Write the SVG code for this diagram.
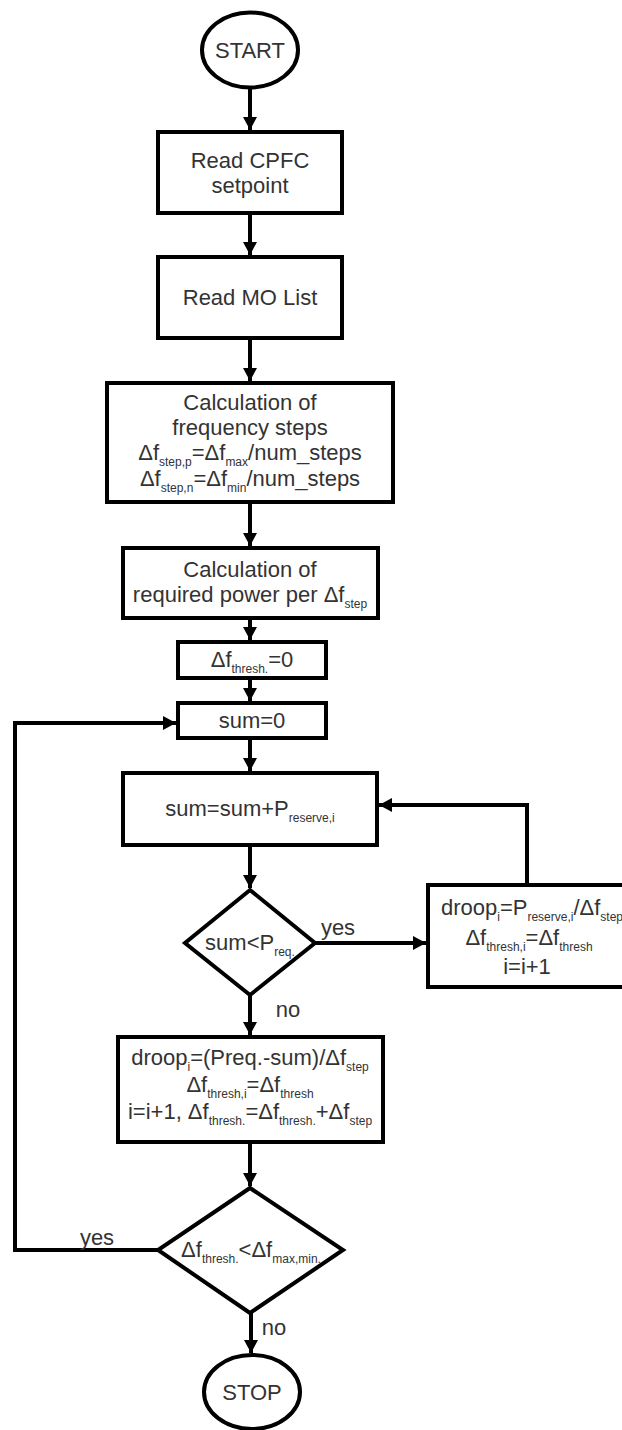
<svg xmlns="http://www.w3.org/2000/svg" width="622" height="1430" viewBox="0 0 622 1430">
<style>
.n{fill:#fff;stroke:#000;stroke-width:4}
.c{fill:none;stroke:#000;stroke-width:4}
text{font-family:"Liberation Sans",Arial,sans-serif;font-size:22px;fill:#333;text-anchor:middle}
.s{font-size:12px}
.l{text-anchor:start}
</style>
<defs>
<marker id="ah" markerUnits="userSpaceOnUse" markerWidth="14" markerHeight="14" refX="13" refY="7" orient="auto">
<path d="M0,0 L13,7 L0,14 z" fill="#000"/>
</marker>
</defs>
<rect width="622" height="1430" fill="#fff"/>
<g id="connectors">
<line class="c" x1="250" y1="88" x2="250" y2="130" marker-end="url(#ah)"/>
<line class="c" x1="250" y1="213" x2="250" y2="255" marker-end="url(#ah)"/>
<line class="c" x1="250" y1="338" x2="250" y2="381" marker-end="url(#ah)"/>
<line class="c" x1="250" y1="502" x2="250" y2="546" marker-end="url(#ah)"/>
<line class="c" x1="250" y1="618" x2="250" y2="640" marker-end="url(#ah)"/>
<line class="c" x1="250" y1="678" x2="250" y2="701" marker-end="url(#ah)"/>
<line class="c" x1="250" y1="738" x2="250" y2="771" marker-end="url(#ah)"/>
<line class="c" x1="250" y1="845" x2="250" y2="888" marker-end="url(#ah)"/>
<line class="c" x1="315" y1="943" x2="426" y2="943" marker-end="url(#ah)"/>
<path class="c" d="M527,885 V805 H379" marker-end="url(#ah)"/>
<line class="c" x1="250" y1="995" x2="250" y2="1035" marker-end="url(#ah)"/>
<line class="c" x1="250" y1="1142" x2="250" y2="1186" marker-end="url(#ah)"/>
<path class="c" d="M158,1250 H15 V723 H176" marker-end="url(#ah)"/>
<line class="c" x1="251" y1="1313" x2="251" y2="1353" marker-end="url(#ah)"/>
<text x="338" y="935">yes</text>
<text x="288" y="1017">no</text>
<text x="97" y="1245">yes</text>
<text x="274" y="1335">no</text>
</g>
<g id="start">
<ellipse class="n" cx="250" cy="50" rx="48" ry="37.5"/>
<text x="250" y="58">START</text>
</g>
<g id="read-cpfc">
<rect class="n" x="158" y="132" width="184" height="81"/>
<text x="250" y="168">Read CPFC</text>
<text x="250" y="193">setpoint</text>
</g>
<g id="read-mo">
<rect class="n" x="158" y="257" width="184" height="81"/>
<text x="250" y="305">Read MO List</text>
</g>
<g id="calc-steps">
<rect class="n" x="107" y="383" width="286" height="119"/>
<text x="250" y="410">Calculation of</text>
<text x="250" y="435">frequency steps</text>
<text x="250" y="460">Δf<tspan class="s" dy="6">step,p</tspan><tspan dy="-6">=Δf</tspan><tspan class="s" dy="6">max</tspan><tspan dy="-6">/num_steps</tspan></text>
<text x="250" y="486">Δf<tspan class="s" dy="6">step,n</tspan><tspan dy="-6">=Δf</tspan><tspan class="s" dy="6">min</tspan><tspan dy="-6">/num_steps</tspan></text>
</g>
<g id="calc-power">
<rect class="n" x="123" y="548" width="255" height="70"/>
<text x="250" y="577">Calculation of</text>
<text x="250" y="602">required power per Δf<tspan class="s" dy="6">step</tspan></text>
</g>
<g id="thresh-init">
<rect class="n" x="178" y="642" width="148" height="36"/>
<text x="252" y="667">Δf<tspan class="s" dy="6">thresh.</tspan><tspan dy="-6">=0</tspan></text>
</g>
<g id="sum-init">
<rect class="n" x="178" y="703" width="148" height="35"/>
<text x="252" y="728">sum=0</text>
</g>
<g id="sum-add">
<rect class="n" x="123" y="773" width="254" height="72"/>
<text x="250" y="816">sum=sum+P<tspan class="s" dy="6">reserve,i</tspan></text>
</g>
<g id="check-sum">
<polygon class="n" points="250,890 315,943 250,995 185,943"/>
<text x="250" y="950">sum&lt;P<tspan class="s" dy="6">req.</tspan></text>
</g>
<g id="droop-yes">
<rect class="n" x="428" y="885" width="202" height="102"/>
<text x="532" y="915">droop<tspan class="s" dy="6">i</tspan><tspan dy="-6">=P</tspan><tspan class="s" dy="6">reserve,i</tspan><tspan dy="-6">/Δf</tspan><tspan class="s" dy="6">step</tspan></text>
<text x="529" y="945">Δf<tspan class="s" dy="6">thresh,i</tspan><tspan dy="-6">=Δf</tspan><tspan class="s" dy="6">thresh</tspan></text>
<text x="527" y="974">i=i+1</text>
</g>
<g id="droop-no">
<rect class="n" x="118" y="1037" width="265" height="105"/>
<text x="250" y="1065">droop<tspan class="s" dy="6">i</tspan><tspan dy="-6">=(Preq.-sum)/Δf</tspan><tspan class="s" dy="6">step</tspan></text>
<text x="250" y="1092">Δf<tspan class="s" dy="6">thresh,i</tspan><tspan dy="-6">=Δf</tspan><tspan class="s" dy="6">thresh</tspan></text>
<text x="250" y="1119">i=i+1, Δf<tspan class="s" dy="6">thresh.</tspan><tspan dy="-6">=Δf</tspan><tspan class="s" dy="6">thresh.</tspan><tspan dy="-6">+Δf</tspan><tspan class="s" dy="6">step</tspan></text>
</g>
<g id="check-thresh">
<polygon class="n" points="250,1188 343,1250 250,1313 158,1250"/>
<text x="251" y="1257">Δf<tspan class="s" dy="6">thresh.</tspan><tspan dy="-6">&lt;Δf</tspan><tspan class="s" dy="6">max,min.</tspan></text>
</g>
<g id="stop">
<ellipse class="n" cx="252" cy="1392" rx="48" ry="37"/>
<text x="252" y="1400">STOP</text>
</g>
</svg>
